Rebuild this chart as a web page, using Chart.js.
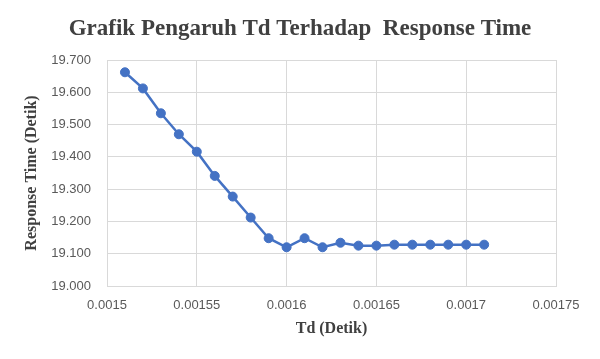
<!DOCTYPE html>
<html lang="id">
<head>
    <meta charset="UTF-8">
    <title>Grafik Pengaruh Td Terhadap Response Time</title>
    <script src="https://cdn.jsdelivr.net/npm/chart.js"></script>
    <style>
        html, body { margin: 0; padding: 0; background: #fff; }
        #wrap { width: 600px; height: 359px; }
    </style>
</head>
<body>
    <div id="wrap"><canvas id="tdChart" width="600" height="359"></canvas></div>

    <script>
        // data
        const tdValues = [0.00151, 0.00152, 0.00153, 0.00154, 0.00155, 0.00156, 0.00157,
                          0.00158, 0.00159, 0.0016, 0.00161, 0.00162, 0.00163, 0.00164,
                          0.00165, 0.00166, 0.00167, 0.00168, 0.00169, 0.0017, 0.00171];
        const responseTime = [19.662, 19.612, 19.535, 19.470, 19.416, 19.341, 19.277,
                              19.212, 19.148, 19.120, 19.148, 19.120, 19.134, 19.125,
                              19.125, 19.128, 19.128, 19.128, 19.128, 19.128, 19.128];
        const xTicks = [0.0015, 0.00155, 0.0016, 0.00165, 0.0017, 0.00175];
        const yTicks = [19.0, 19.1, 19.2, 19.3, 19.4, 19.5, 19.6, 19.7];
        const chartTitle = 'Grafik Pengaruh Td Terhadap  Response Time';

        const points = tdValues.map((x, i) => ({ x: x, y: responseTime[i] }));

        // white background + title centred on the whole canvas (the built-in title
        // would centre over the area left of the right padding)
        const bgAndTitle = {
            id: 'bgAndTitle',
            beforeDraw(chart) {
                const ctx = chart.ctx;
                ctx.save();
                ctx.fillStyle = '#ffffff';
                ctx.fillRect(0, 0, chart.width, chart.height);
                ctx.restore();
            },
            afterDraw(chart) {
                const ctx = chart.ctx;
                ctx.save();
                ctx.fillStyle = '#404040';
                ctx.font = 'bold 23px "Liberation Serif", "Times New Roman", serif';
                ctx.textAlign = 'center';
                ctx.textBaseline = 'middle';
                ctx.fillText(chartTitle, chart.width / 2, 29);
                ctx.restore();
            }
        };

        const tickFont = { family: 'Liberation Sans, Arial, sans-serif', size: 13 };
        const titleFont = { family: 'Liberation Serif, Times New Roman, serif', size: 16, weight: 'bold' };

        new Chart(document.getElementById('tdChart'), {
            type: 'line',
            data: {
                datasets: [{
                    label: 'Response Time',
                    data: points,
                    borderColor: '#4472C4',
                    backgroundColor: '#4472C4',
                    borderWidth: 2.5,
                    pointRadius: 4.5,
                    pointBorderWidth: 1,
                    pointBorderColor: '#4472C4',
                    pointBackgroundColor: '#4472C4',
                    tension: 0,
                    fill: false
                }]
            },
            options: {
                responsive: false,
                animation: false,
                layout: { padding: { left: 0, right: 44, top: 60, bottom: 0 } },
                plugins: {
                    legend: { display: false },
                    tooltip: { enabled: false },
                    title: { display: false }
                },
                scales: {
                    x: {
                        type: 'linear',
                        min: 0.0015,
                        max: 0.00175,
                        afterBuildTicks: s => { s.ticks = xTicks.map(v => ({ value: v })); },
                        afterFit: s => { s.height = 73; },
                        grid: { color: '#d9d9d9', lineWidth: 1, drawTicks: false },
                        border: { color: '#d9d9d9', width: 1 },
                        ticks: {
                            color: '#595959',
                            font: tickFont,
                            padding: 12,
                            maxRotation: 0,
                            autoSkip: false,
                            callback: v => String(parseFloat(Number(v).toFixed(6)))
                        },
                        title: {
                            display: true,
                            text: 'Td (Detik)',
                            color: '#404040',
                            font: titleFont,
                            padding: { top: 0, bottom: 21 }
                        }
                    },
                    y: {
                        min: 19.0,
                        max: 19.7,
                        afterBuildTicks: s => { s.ticks = yTicks.map(v => ({ value: v })); },
                        afterFit: s => { s.width = 107; },
                        grid: { color: '#d9d9d9', lineWidth: 1, drawTicks: false },
                        border: { color: '#d9d9d9', width: 1 },
                        ticks: {
                            color: '#595959',
                            font: tickFont,
                            padding: 16,
                            callback: v => Number(v).toFixed(3)
                        },
                        title: {
                            display: true,
                            text: 'Response Time (Detik)',
                            color: '#404040',
                            font: titleFont,
                            padding: { top: 22, bottom: 0 }
                        }
                    }
                }
            },
            plugins: [bgAndTitle]
        });
    </script>
</body>
</html>
